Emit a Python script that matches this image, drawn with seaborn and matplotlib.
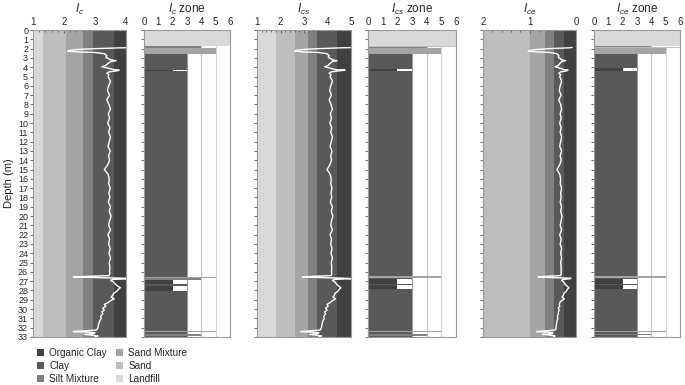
import matplotlib
matplotlib.use("Agg")
import matplotlib.pyplot as plt
from matplotlib.patches import Patch
import seaborn as sns
import numpy as np

# soil classes and their shades
soils = ['Organic Clay', 'Clay', 'Silt Mixture', 'Sand Mixture', 'Sand', 'Landfill']
soil_colors = ['#404040', '#595959', '#808080', '#a4a4a4', '#bebebe', '#d9d9d9']
soil_zone = {'Organic Clay': 2, 'Clay': 3, 'Silt Mixture': 4,
             'Sand Mixture': 5, 'Sand': 6, 'Landfill': 6}

# background classification bands per index
ic_bounds = [1.0, 1.31, 2.05, 2.6, 2.95, 3.6, 4.0]
ic_band_soils = ['Landfill', 'Sand', 'Sand Mixture', 'Silt Mixture', 'Clay', 'Organic Clay']
ics_bounds = [1.0, 1.8, 2.6, 3.15, 3.55, 4.4, 5.0]
ics_band_soils = ['Landfill', 'Sand', 'Sand Mixture', 'Silt Mixture', 'Clay', 'Organic Clay']
ice_bounds = [2.0, 1.0, 0.67, 0.48, 0.26, 0.0]
ice_band_soils = ['Sand', 'Sand Mixture', 'Silt Mixture', 'Clay', 'Organic Clay']

# CPT profiles
depth = [1.88, 1.92, 2.00, 2.10, 2.20, 2.28, 2.35, 2.42, 2.55, 2.75, 2.95, 3.10, 3.20,
         3.30, 3.40, 3.60, 3.80, 3.95, 4.10, 4.25, 4.32, 4.40, 4.50, 4.65, 4.80,
         5.0, 5.5, 6.0, 6.5, 7.0, 7.5, 8.0, 8.5, 9.0, 9.5, 10.0, 10.5, 11.0, 11.5,
         12.0, 12.5, 13.0, 13.5, 14.0, 14.5, 15.0, 15.5, 16.0, 16.5, 17.0, 17.5,
         18.0, 18.5, 19.0, 19.5, 20.0, 20.5, 21.0, 21.5, 22.0, 22.5, 23.0, 23.5,
         24.0, 24.5, 25.0, 25.5, 26.0,
         26.2, 26.4, 26.48, 26.53, 26.6, 26.68, 26.73, 26.8, 26.9, 27.1, 27.3, 27.5,
         27.7, 27.9, 28.1, 28.3, 28.5, 28.7, 28.9, 29.1, 29.3, 29.5, 29.7, 29.9,
         30.1, 30.3, 30.5, 30.8, 31.0, 31.3, 31.6, 31.9, 32.1, 32.25, 32.35, 32.42,
         32.48, 32.55, 32.65, 32.72, 32.8, 32.88, 32.95, 33.0]
ic = [4.30, 3.80, 3.00, 2.40, 2.15, 2.12, 2.40, 3.00, 3.30, 3.38, 3.35, 3.45, 3.50,
      3.68, 3.50, 3.42, 3.35, 3.22, 3.42, 3.60, 3.78, 3.70, 3.45, 3.38, 3.45,
      3.42, 3.50, 3.44, 3.40, 3.47, 3.38, 3.45, 3.50, 3.43, 3.47, 3.41, 3.48, 3.44, 3.50,
      3.46, 3.42, 3.49, 3.44, 3.47, 3.41, 3.30, 3.42, 3.46, 3.44, 3.49, 3.45,
      3.48, 3.43, 3.50, 3.46, 3.52, 3.47, 3.44, 3.50, 3.42, 3.47, 3.44, 3.49,
      3.45, 3.50, 3.46, 3.48, 3.47,
      3.48, 3.45, 2.80, 2.30, 2.90, 3.90, 4.30, 3.60, 3.50, 3.60, 3.65, 3.72,
      3.82, 3.75, 3.70, 3.60, 3.58, 3.52, 3.62, 3.50, 3.42, 3.30, 3.35, 3.25,
      3.30, 3.22, 3.25, 3.18, 3.20, 3.15, 3.12, 3.10, 3.08, 3.05, 2.60, 2.30,
      2.80, 3.00, 2.90, 2.65, 2.90, 3.10, 3.00, 3.05]
ics = [5.12, 4.55, 3.63, 2.94, 2.65, 2.62, 2.94, 3.63, 3.98, 4.07, 4.03, 4.15, 4.20,
       4.41, 4.20, 4.11, 4.03, 3.88, 4.11, 4.32, 4.75, 4.44, 4.15, 4.07, 4.15,
       4.11, 4.21, 4.14, 4.09, 4.17, 4.07, 4.15, 4.21, 4.12, 4.17, 4.10, 4.18, 4.14, 4.21,
       4.16, 4.11, 4.19, 4.14, 4.17, 4.10, 3.98, 4.11, 4.16, 4.14, 4.19, 4.15,
       4.18, 4.12, 4.21, 4.16, 4.23, 4.17, 4.14, 4.21, 4.11, 4.17, 4.14, 4.19,
       4.15, 4.21, 4.16, 4.18, 4.17,
       4.18, 4.15, 3.40, 2.92, 3.52, 4.67, 5.12, 4.32, 4.21, 4.32, 4.38, 4.46,
       4.57, 4.49, 4.44, 4.32, 4.30, 4.23, 4.34, 4.21, 4.11, 3.98, 4.03, 3.92,
       3.98, 3.88, 3.92, 3.84, 3.86, 3.80, 3.77, 3.75, 3.72, 3.69, 3.17, 2.86,
       3.40, 3.63, 3.52, 3.23, 3.52, 3.75, 3.63, 3.69]
ice = [0.08, 0.16, 0.56, 0.86, 0.99, 1.03, 0.86, 0.56, 0.41, 0.37, 0.38, 0.33, 0.31,
       0.22, 0.31, 0.35, 0.38, 0.45, 0.35, 0.26, 0.17, 0.21, 0.33, 0.37, 0.33,
       0.35, 0.31, 0.34, 0.36, 0.32, 0.37, 0.33, 0.31, 0.34, 0.32, 0.35, 0.32, 0.34, 0.31,
       0.33, 0.35, 0.31, 0.34, 0.32, 0.35, 0.41, 0.35, 0.33, 0.34, 0.31, 0.33,
       0.32, 0.34, 0.31, 0.33, 0.30, 0.32, 0.34, 0.31, 0.35, 0.32, 0.34, 0.31,
       0.33, 0.31, 0.33, 0.32, 0.32,
       0.32, 0.33, 0.66, 0.82, 0.61, 0.11, 0.12, 0.26, 0.31, 0.26, 0.24, 0.20,
       0.15, 0.19, 0.21, 0.26, 0.27, 0.30, 0.25, 0.31, 0.35, 0.36, 0.35, 0.38,
       0.36, 0.38, 0.38, 0.40, 0.39, 0.41, 0.42, 0.43, 0.43, 0.45, 0.70, 0.85,
       0.60, 0.50, 0.55, 0.72, 0.55, 0.45, 0.48, 0.46]

# zone layers: (top, bottom, soil)
ic_layers = [(0.0, 1.75, 'Landfill'), (1.75, 1.9, 'Silt Mixture'), (1.9, 2.6, 'Sand Mixture'),
             (2.6, 4.3, 'Clay'), (4.3, 4.45, 'Organic Clay'), (4.45, 26.5, 'Clay'),
             (26.5, 26.7, 'Sand Mixture'), (26.7, 26.85, 'Silt Mixture'),
             (26.85, 27.3, 'Organic Clay'), (27.3, 27.5, 'Clay'), (27.5, 28.1, 'Organic Clay'),
             (28.1, 32.35, 'Clay'), (32.35, 32.5, 'Sand Mixture'), (32.5, 32.65, 'Clay'),
             (32.65, 32.85, 'Silt Mixture'), (32.85, 33.0, 'Clay')]
ics_layers = [(0.0, 1.75, 'Landfill'), (1.75, 1.85, 'Sand'), (1.85, 1.95, 'Silt Mixture'),
              (1.95, 2.6, 'Sand Mixture'), (2.6, 4.2, 'Clay'), (4.2, 4.45, 'Organic Clay'),
              (4.45, 26.45, 'Clay'), (26.45, 26.65, 'Sand Mixture'), (26.65, 26.8, 'Clay'),
              (26.8, 27.3, 'Organic Clay'), (27.3, 27.45, 'Clay'), (27.45, 27.8, 'Organic Clay'),
              (27.8, 32.35, 'Clay'), (32.35, 32.5, 'Sand Mixture'), (32.5, 32.7, 'Clay'),
              (32.7, 32.85, 'Silt Mixture'), (32.85, 33.0, 'Clay')]
ice_layers = [(0.0, 1.75, 'Landfill'), (1.75, 1.85, 'Silt Mixture'), (1.85, 1.95, 'Sand'),
              (1.95, 2.6, 'Sand Mixture'), (2.6, 4.1, 'Clay'), (4.1, 4.4, 'Organic Clay'),
              (4.4, 26.45, 'Clay'), (26.45, 26.65, 'Sand Mixture'), (26.65, 26.8, 'Clay'),
              (26.8, 27.25, 'Organic Clay'), (27.25, 27.45, 'Clay'), (27.45, 27.8, 'Organic Clay'),
              (27.8, 32.35, 'Clay'), (32.35, 32.5, 'Sand Mixture'), (32.5, 32.65, 'Clay'),
              (32.65, 32.8, 'Silt Mixture'), (32.8, 33.0, 'Clay')]

color_of = dict(zip(soils, soil_colors))
depth_ticks = list(range(0, 34))

sns.set_style("ticks")
plt.rcParams['font.family'] = ['Liberation Sans', 'DejaVu Sans']
plt.rcParams['mathtext.fontset'] = 'custom'
plt.rcParams['mathtext.it'] = 'Liberation Sans:italic'
plt.rcParams['mathtext.rm'] = 'Liberation Sans'

fig = plt.figure(figsize=(6.85, 3.85), dpi=100)
top, bot = 1 - 30 / 385, 1 - 337 / 385
H = top - bot
lefts = [(33, 126), (144, 230), (257, 351), (368, 456), (483, 576), (594, 680)]
axes = [fig.add_axes([l / 685, bot, (r - l) / 685, H]) for l, r in lefts]


def style_axis(ax, xlim, xticks, title, minor=None, labels=False):
    ax.set_xlim(*xlim)
    ax.set_ylim(33, 0)
    ax.xaxis.tick_top()
    ax.set_xticks(xticks)
    ax.set_xticklabels([str(t) for t in xticks])
    if minor is not None:
        ax.set_xticks(minor, minor=True)
    ax.set_yticks(depth_ticks)
    if labels:
        ax.set_yticklabels([str(t) for t in depth_ticks])
    else:
        ax.set_yticklabels([])
    ax.tick_params(axis='x', which='both', direction='in', top=True, bottom=False,
                   labelsize=7, pad=2, length=2.5, width=0.6, color='#555555')
    ax.tick_params(axis='x', which='minor', length=1.5)
    ax.tick_params(axis='y', direction='out', labelsize=6.5, pad=1.5, length=2,
                   width=0.6, color='#555555')
    ax.set_title(title, fontsize=8.5, pad=1)
    for s in ax.spines.values():
        s.set_color('#999999')
        s.set_linewidth(0.8)
    ax.set_xlabel('')
    ax.set_ylabel('')


def profile(ax, bounds, band_soils, values):
    for i, s in enumerate(band_soils):
        ax.axvspan(bounds[i], bounds[i + 1], color=color_of[s], lw=0, zorder=0)
    sns.lineplot(x=values, y=depth, sort=False, estimator=None, orient='y',
                 color='white', lw=1.0, ax=ax, zorder=3)


def zones(ax, layers):
    for t, b, s in layers:
        ax.barh(t, soil_zone[s], height=b - t, align='edge', color=color_of[s],
                edgecolor='none', zorder=2)
    for xv, c in [(3, '#9a9a9a'), (4, '#c4c4c4'), (5, '#d6d6d6')]:
        ax.axvline(xv, ymin=0, ymax=1 - 1.75 / 33, color=c, lw=0.8, zorder=1)


profile(axes[0], ic_bounds, ic_band_soils, ic)
style_axis(axes[0], (1, 4), [1, 2, 3, 4], '$I_c$', minor=np.arange(1, 4.01, 0.2), labels=True)
axes[0].set_ylabel('Depth (m)', fontsize=8, labelpad=3)

zones(axes[1], ic_layers)
style_axis(axes[1], (0, 6), list(range(7)), '$I_c$ zone')

profile(axes[2], ics_bounds, ics_band_soils, ics)
style_axis(axes[2], (1, 5), [1, 2, 3, 4, 5], '$I_{cs}$', minor=np.arange(1, 5.01, 0.2))

zones(axes[3], ics_layers)
style_axis(axes[3], (0, 6), list(range(7)), '$I_{cs}$ zone')

profile(axes[4], ice_bounds, ice_band_soils, ice)
style_axis(axes[4], (2, 0), [2, 1, 0], '$I_{ce}$', minor=np.arange(0, 2.01, 0.2))

zones(axes[5], ice_layers)
style_axis(axes[5], (0, 6), list(range(7)), '$I_{ce}$ zone')

handles = [Patch(facecolor=c, edgecolor='none', label=s) for s, c in zip(soils, soil_colors)]
fig.legend(handles=handles, loc='upper left', bbox_to_anchor=(0.046, 0.11), ncol=2,
           frameon=False, fontsize=7.2, handlelength=0.75, handleheight=0.75,
           handletextpad=0.5, labelspacing=0.3, columnspacing=0.9, borderpad=0)

fig.savefig('out.png', dpi=100)
